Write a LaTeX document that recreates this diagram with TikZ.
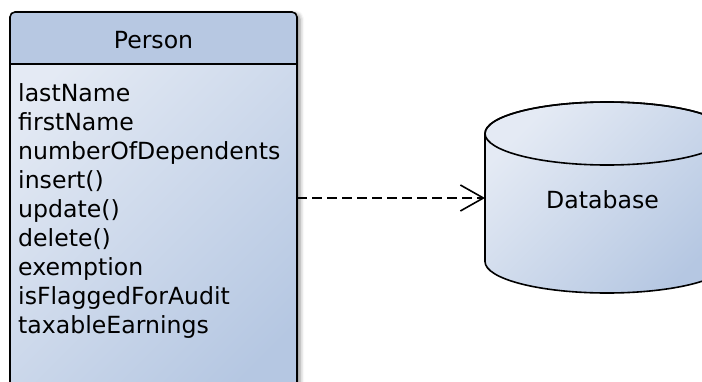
\documentclass[tikz,border=0pt]{standalone}
\usepackage{fontspec}
\setmainfont{DejaVu Sans}
\usetikzlibrary{arrows.meta,shadows.blur}
\definecolor{hdr}{HTML}{B7C8E2}
\definecolor{lite}{HTML}{E4EAF4}
\definecolor{deep}{HTML}{B5C7E2}
\tikzset{
  edge/.style={line width=1.6pt},
  grad/.style={top color=lite, bottom color=deep, shading angle=45},
  attr/.style={anchor=base west, inner sep=0pt, font=\fontsize{23.6}{29}\selectfont},
  title/.style={anchor=base, inner sep=0pt, font=\fontsize{23.6}{29}\selectfont},
  dep/.style={line width=1.6pt, dash pattern=on 10pt off 5pt,
    -{Straight Barb[length=23pt, width=26pt]}}
}
\begin{document}
\begin{tikzpicture}[x=1pt, y=-1pt]
\useasboundingbox (0,0) rectangle (702,381);
\clip (0,0) rectangle (702,381);

% class box: shaded body with a soft drop shadow
\path[grad, rounded corners=5pt,
  blur shadow={shadow xshift=3pt, shadow yshift=-2pt, shadow blur radius=4pt, shadow opacity=45}]
  (10,12) rectangle (297,430);
% header band
\fill[hdr] (10,64) [rounded corners=5pt] -- (10,12) -- (297,12) [sharp corners] -- (297,64) -- cycle;
\draw[edge, rounded corners=5pt] (10,12) rectangle (297,430);
\draw[edge] (10,64) -- (297,64);
\node[title] (person) at (153.5,48) {Person};
\foreach \t [count=\i] in {lastName, firstName, numberOfDependents, insert(), update(),
    delete(), exemption, isFlaggedForAudit, taxableEarnings}
  \node[attr] (a\i) at (18,72+29*\i) {\t};
\coordinate (src) at (297,198);

% database cylinder (y axis points down, so the arcs run the other way)
\path[grad, draw, edge] (485,133.5) -- (485,261.5)
  arc[start angle=180, end angle=0, x radius=122, y radius=31.5]
  -- (729,133.5)
  arc[start angle=0, end angle=-180, x radius=122, y radius=31.5] -- cycle;
\draw[edge] (607,133.5) ellipse[x radius=122, y radius=31.5];
\node[title] (db) at (602.5,208) {Database};
\coordinate (dst) at (485,198);

% dependency
\draw[dep] (src) -- (dst);
\end{tikzpicture}
\end{document}
